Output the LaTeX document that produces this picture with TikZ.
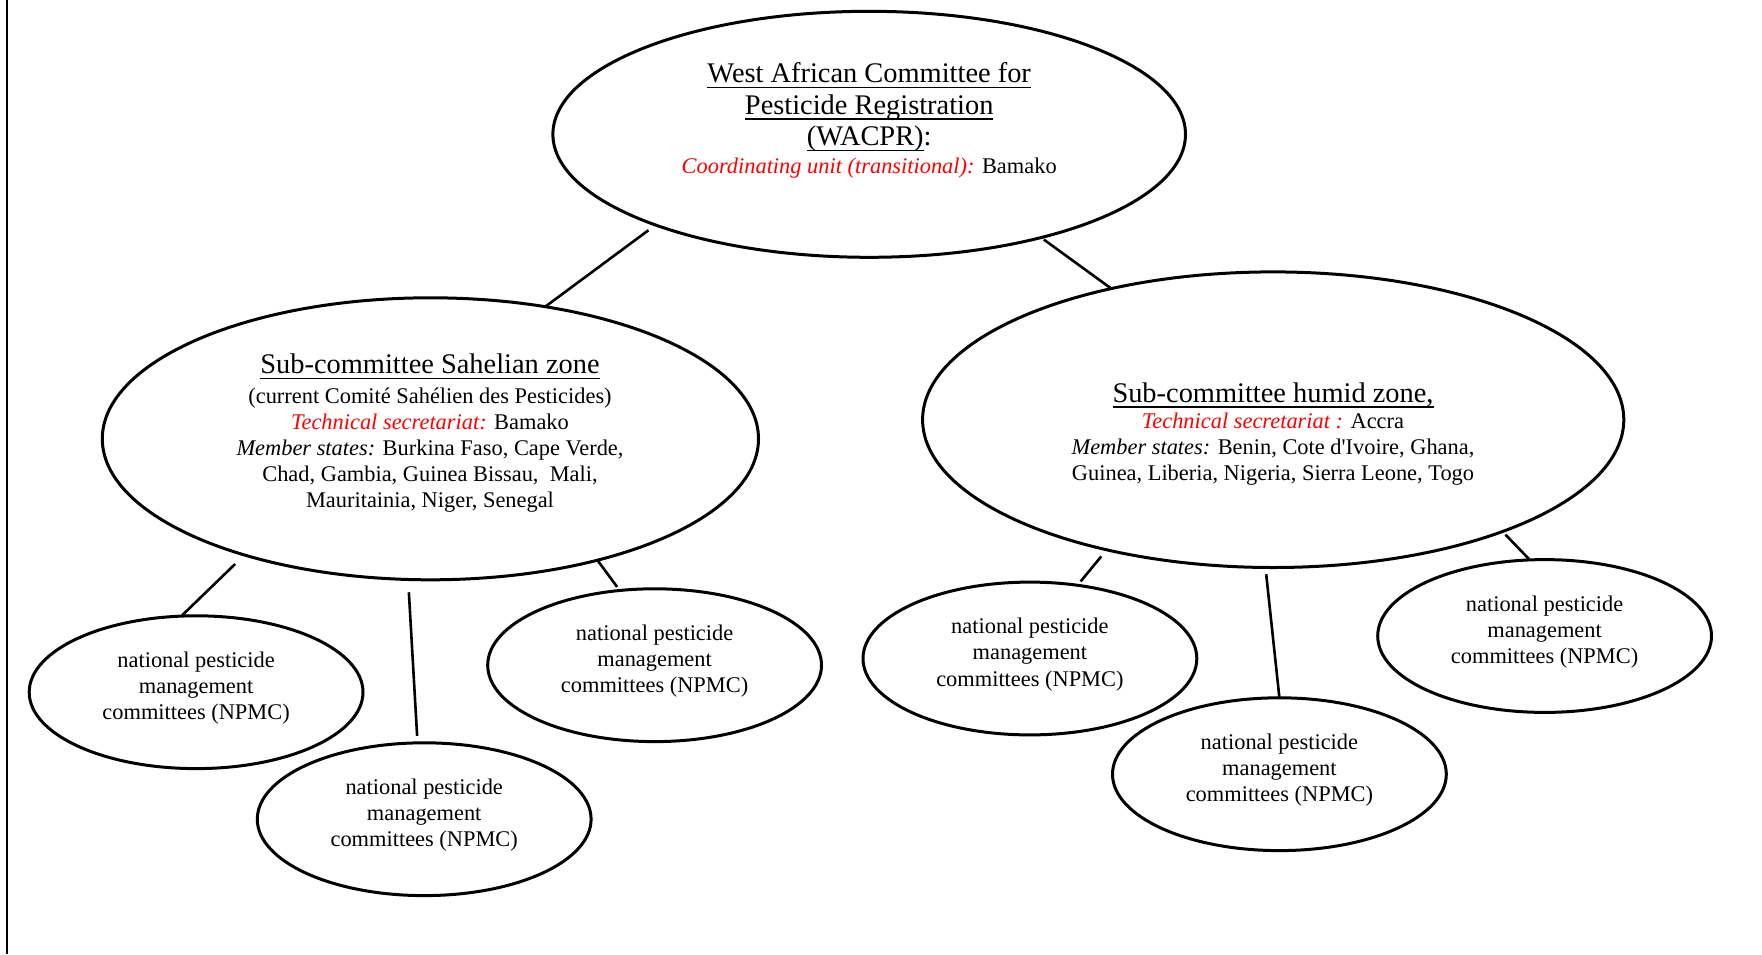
\documentclass[tikz,border=0pt]{standalone}
\usepackage{fontspec}
\setmainfont{Liberation Serif}[Ligatures=TeXOff]
\usetikzlibrary{shapes.geometric}
\newsavebox\ulbox
\newcommand\myul[1]{\sbox\ulbox{#1}\leavevmode\rlap{\rule[-2.8pt]{\wd\ulbox}{0.7pt}}\usebox\ulbox}
\newcommand\bigf{\fontsize{14.2}{15.75}\selectfont}
\tikzset{
  ell/.style={ellipse, draw, line width=1.5pt, inner sep=0pt, outer sep=0pt},
  npmc/.style={ell, minimum width=166.9pt, minimum height=76.4pt},
  txt/.style={align=center, inner sep=0pt, font=\fontsize{11.2}{13.1}\selectfont},
  conn/.style={line width=1.3pt}
}
\begin{document}
\begin{tikzpicture}[x=0.5pt,y=-0.5pt]
\useasboundingbox (0,0) rectangle (1762,954);
\coordinate (b1) at (7,0);
\coordinate (b2) at (7,954);
\draw[line width=1pt] (b1) -- (b2);

% ellipses
\node[ell, minimum width=316.3pt, minimum height=123pt] (T) at (869.2,134.3) {};
\node[ell, minimum width=328.1pt, minimum height=141pt] (L) at (430.4,438.8) {};
\node[ell, minimum width=350.6pt, minimum height=147.8pt] (R) at (1273.2,419.7) {};
\node[npmc] (N1) at (196.1,692.2) {};
\node[npmc] (N2) at (424.2,819.2) {};
\node[npmc] (N3) at (654.6,665.2) {};
\node[npmc] (N4) at (1029.9,658.5) {};
\node[npmc] (N5) at (1279.4,774.2) {};
\node[npmc] (N6) at (1544.6,636.0) {};

% texts
\node[txt] (Tt) at (869.2,120.5) {{\bigf\myul{West African Committee for}}\\[2.65pt]
{\bigf\myul{Pesticide Registration}}\\[2.65pt]
{\bigf\myul{(WACPR)}:}\\[1pt]
\textcolor{red}{\itshape Coordinating unit (transitional):} Bamako};

\node[txt] (Lt) at (430,433.4) {{\bigf\myul{Sub-committee Sahelian zone}}\\[1.6pt]
(current Comité Sahélien des Pesticides)\\
\textcolor{red}{\itshape Technical secretariat:} Bamako\\
{\itshape Member states:} Burkina Faso, Cape Verde,\\
Chad, Gambia, Guinea Bissau,\ \ Mali,\\
Mauritainia, Niger, Senegal};

\node[txt] (Rt) at (1273,434) {{\bigf\myul{Sub-committee humid zone,}}\\[0.1pt]
\textcolor{red}{\itshape Technical secretariat :} Accra\\
{\itshape Member states:} Benin, Cote d'Ivoire, Ghana,\\
Guinea, Liberia, Nigeria, Sierra Leone, Togo};

\foreach \n in {1,...,6}{
  \node[txt] (N\n t) at ([yshift=1.95pt]N\n.center) {national pesticide\\management\\committees (NPMC)};
}

% connectors
\draw[conn, shorten <=4.4pt] (T.203.4) -- (L.49.3);
\draw[conn, shorten <=1.7pt] (T.329.9) -- (R.141.9);
\draw[conn, shorten <=6.5pt, shorten >=0.7pt] (L.212.0) -- (N1.101.1);
\draw[conn, shorten <=6.4pt, shorten >=3.5pt] (L.261.7) -- (N2.95.0);
\draw[conn, shorten >=2.2pt] (L.324.2) -- (N3.115.6);
\draw[conn, shorten <=4.3pt, shorten >=2.5pt] (R.218.0) -- (N4.57.2);
\draw[conn, shorten <=3.4pt] (R.267.5) -- (N5.90.4);
\draw[conn, shorten <=2.2pt, shorten >=0.7pt] (R.334.9) -- (N6.101.1);
\end{tikzpicture}
\end{document}
